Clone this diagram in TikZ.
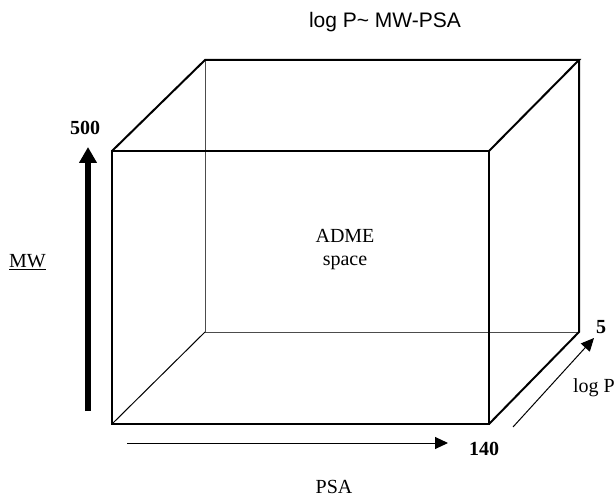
\documentclass[tikz,border=0pt]{standalone}
\usepackage{fontspec}
\setmainfont{Liberation Serif}
\newfontfamily\arialfont{Liberation Sans}
\usetikzlibrary{arrows.meta,positioning}
\tikzset{
  edge/.style={line width=2pt},
  hidden/.style={line width=1pt, black!70},
  axis/.style={line width=1pt, -{Triangle[length=13pt,width=12pt]}},
  lbl/.style={font=\fontsize{20}{23}\selectfont},
  numlbl/.style={font=\fontsize{20}{23}\selectfont\bfseries},
}
\begin{document}
\begin{tikzpicture}[x=1pt,y=-1pt]
\useasboundingbox (0,0) rectangle (616,497);
% corners of the box
\coordinate (ftl) at (112,151);
\coordinate (ftr) at (489,151);
\coordinate (fbl) at (112,424);
\coordinate (fbr) at (489,424);
\coordinate (btl) at (205,60);
\coordinate (btr) at (579,60);
\coordinate (bbl) at (205,332);
\coordinate (bbr) at (579,332);
% hidden edges
\draw[hidden] (btl) -- (bbl) -- (bbr);
\draw[line width=1pt] (bbl) -- (fbl);
% outline
\draw[edge] (ftl) rectangle (fbr);
\draw[edge] (ftl) -- (btl) -- (btr) -- (ftr);
\draw[edge, line join=miter] (btr) -- (bbr) -- (fbr);
% axes
\coordinate (mwlow) at (88,411);
\coordinate (mwhigh) at (88,147);
\coordinate (psalow) at (127,443);
\coordinate (psahigh) at (448,443);
\coordinate (plow) at (513,427);
\coordinate (phigh) at (594,338);
\draw[line width=5.5pt, -{Triangle[length=16pt,width=17pt]}] (mwlow) -- (mwhigh);
\draw[axis] (psalow) -- (psahigh);
\draw[axis] (plow) -- (phigh);
% labels
\node[font=\arialfont\fontsize{21}{24}\selectfont] (title) at (385,22) {log P\textasciitilde{} MW-PSA};
\node[lbl, align=center] (adme) at (345,250) {ADME\\space};
\node[lbl] (mw) at (27.5,262) {\underline{MW}};
\node[lbl] (psa) at (334,487) {PSA};
\node[lbl] (logp) at (594,388) {log P};
\node[numlbl] (n500) at (85,128) {500};
\node[numlbl] (n140) at (484,449) {140};
\node[numlbl] (n5) at (601,327) {5};
\end{tikzpicture}
\end{document}
